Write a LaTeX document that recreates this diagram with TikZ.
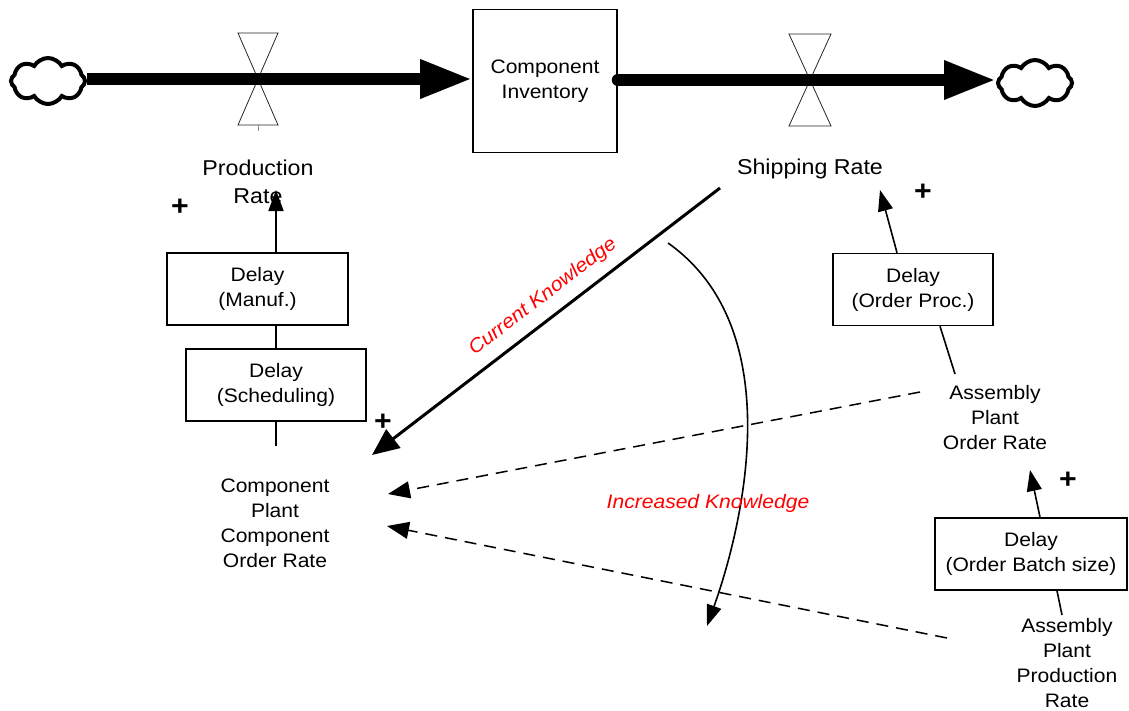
\documentclass[tikz,border=0pt]{standalone}
\usepackage{fontspec}
\setmainfont{Liberation Sans}[FakeStretch=1.08]
\usetikzlibrary{arrows.meta,shapes.symbols}

\newcommand{\dgtext}{\fontsize{19.5}{25}\selectfont}
\newcommand{\dgbig}{\fontsize{21.5}{28}\selectfont}
\newcommand{\dgsign}{\fontsize{28}{28}\selectfont\bfseries}

\begin{document}
\begin{tikzpicture}[x=1pt,y=-1pt,
  pipe/.style={line width=12pt},
  pipehead/.style={-{Triangle[length=52pt,width=36pt]}},
  valveline/.style={draw=black!85, line width=0.8pt},
  cloudnode/.style={cloud, cloud puffs=8, cloud puff arc=120, aspect=1.6,
    draw, line width=4pt, fill=white, minimum width=74pt, minimum height=46pt, inner sep=0pt},
  stockbox/.style={draw, line width=1.6pt, minimum width=144pt, minimum height=143pt,
    inner sep=0pt, align=center, font=\dgtext},
  delaybox/.style={draw, line width=1.6pt, minimum width=#1, minimum height=72pt,
    inner sep=0pt, align=center, font=\dgtext},
  vartext/.style={align=center, font=\dgtext, inner sep=1pt},
  bigtext/.style={align=center, font=\dgbig, inner sep=1pt},
  sign/.style={font=\dgsign, inner sep=0pt},
  note/.style={text=red, font=\dgtext\itshape, inner sep=1pt},
  link/.style={line width=1.6pt, -{Triangle[length=21pt,width=15pt]}},
  strong/.style={line width=3pt, -{Triangle[length=27pt,width=23pt]}},
  infolink/.style={line width=1.5pt, dash pattern=on 12pt off 8pt,
    -{Triangle[length=22pt,width=17pt]}},
  plain/.style={line width=1.6pt}
]
\useasboundingbox (0,0) rectangle (1129,710);

% ---- stock and flow chain ----
\node[cloudnode] (src) at (48,81) {};
\node[cloudnode] (sink) at (1035,83) {};
\node[stockbox] (stock) at (545,81) {Component\\Inventory};

% valves (drawn under the pipes)
\coordinate (v1) at (258,79);
\coordinate (v2) at (810,80);
\begin{scope}[shift={(v1)}]
  \draw[valveline] (0,0) -- (-20,-46) -- (20,-46) -- cycle;
  \draw[valveline] (0,0) -- (-20,46) -- (20,46) -- cycle;
  \draw[draw=black!45, line width=0.8pt] (0,46) -- (0,52);
\end{scope}
\begin{scope}[shift={(v2)}]
  \draw[valveline] (0,0) -- (-21,-46) -- (21,-46) -- cycle;
  \draw[valveline] (0,0) -- (-21,46) -- (21,46) -- cycle;
\end{scope}

\draw[pipe, pipehead] (src.east |- v1) -- (stock.west |- v1);
\draw[pipe, pipehead, line cap=round] (stock.east |- v2) -- (sink.west |- v2);

% ---- variables ----
\node[bigtext] (prodrate) at (258,182) {Production\\Rate};
\node[bigtext] (shiprate) at (810,169) {Shipping Rate};

\node[delaybox=181pt] (manuf) at (257.5,289) {Delay\\(Manuf.)};
\node[delaybox=180pt] (sched) at (276,385) {Delay\\(Scheduling)};
\node[vartext] (cpcor) at (275,523) {Component\\Plant\\Component\\Order Rate};

\node[delaybox=160pt] (oproc) at (913,289.5) {Delay\\(Order Proc.)};
\node[vartext] (apor) at (995,418) {Assembly\\Plant\\Order Rate};
\node[delaybox=192pt] (batch) at (1031,554) {Delay\\(Order Batch size)};
\node[vartext] (appr) at (1067,663) {Assembly\\Plant\\Production\\Rate};

% ---- connector end points ----
\coordinate (prtip) at (276,190);
\coordinate (schedend) at (276,446);
\coordinate (ckstart) at (720,188);
\coordinate (cktip) at (372,455);
\coordinate (sptip) at (880,190);
\coordinate (aporin) at (955,374);
\coordinate (aportip) at (1030,470);
\coordinate (apprin) at (1062,615);
\coordinate (dash1start) at (920,392);
\coordinate (dash1tip) at (388,494);
\coordinate (dash2start) at (947,638);
\coordinate (dash2tip) at (387,526);
\coordinate (ikstart) at (668,243);
\coordinate (iktip) at (707,626);

% ---- left delay chain ----
\draw[link] (manuf.north -| sched.north) -- (prtip);
\draw[plain] (manuf.south -| sched.north) -- (sched.north);
\draw[plain] (sched.south) -- (schedend);

% ---- right delay chain ----
\draw[link] ([xshift=-16pt]oproc.north) -- (sptip);
\draw[plain] ([xshift=27pt]oproc.south) -- (aporin);
\draw[link] ([xshift=9pt]batch.north) -- (aportip);
\draw[plain] ([xshift=26pt]batch.south) -- (apprin);

% ---- knowledge links ----
\draw[strong] (ckstart) -- (cktip);
\draw[infolink] (dash1start) -- (dash1tip);
\draw[infolink] (dash2start) -- (dash2tip);
\draw[link] (ikstart) .. controls (791,330) and (742,528) .. (iktip);

\node[note, rotate=37.5] (ck) at (543,297) {Current Knowledge};
\node[note] (ik) at (708,503) {Increased Knowledge};

% ---- polarity signs ----
\node[sign] (p1) at (180,207) {+};
\node[sign] (p2) at (383,422) {+};
\node[sign] (p3) at (923,192) {+};
\node[sign] (p4) at (1068,480) {+};
\end{tikzpicture}
\end{document}
